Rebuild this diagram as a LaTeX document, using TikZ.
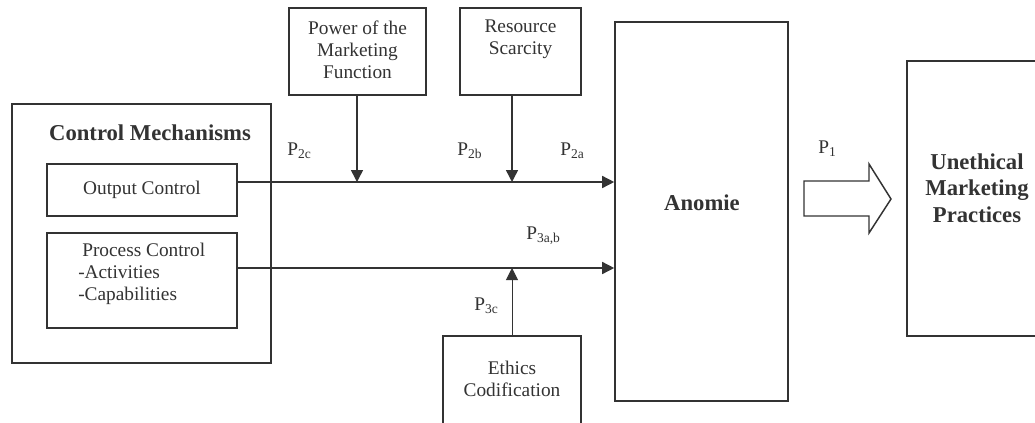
\documentclass[tikz,border=0pt]{standalone}
\usepackage{fontspec}
\setmainfont{Liberation Serif}
\usetikzlibrary{arrows.meta}
\definecolor{ink}{HTML}{333333}
\tikzset{
  box/.style={draw=ink, line width=1.2pt, minimum width=#1, inner sep=0pt},
  txt/.style={text=ink, font=\fontsize{14.5}{16.5}\selectfont, align=center, inner sep=0pt},
  btxt/.style={text=ink, font=\fontsize{17}{20}\selectfont\bfseries, align=center, inner sep=0pt},
  lbl/.style={text=ink, font=\fontsize{14.5}{16}\selectfont, anchor=west, inner sep=0pt},
  arr/.style={draw=ink, line width=1.1pt, -{Triangle[length=9pt,width=9pt]}},
}
\begin{document}
\begin{tikzpicture}[x=0.75pt, y=-0.75pt]
\clip (0,0) rectangle (1035,422);
\fill[white] (0,0) rectangle (1035,422);
% Control mechanisms
\node[box=259*0.75pt, minimum height=259*0.75pt] (ctrl) at (141.5,233.5) {};
\node[btxt] (ctrlt) at (150,133) {Control Mechanisms};
\node[box=190*0.75pt, minimum height=52*0.75pt] (out) at (142,190) {};
\node[txt] (outt) at (142,190) {Output Control};
\node[box=190*0.75pt, minimum height=95*0.75pt] (proc) at (142,280.5) {};
\node[txt, align=left, anchor=north west] (proct) at (78,243) {\hspace{3pt}Process Control\\-Activities\\-Capabilities};
% top boxes
\node[box=137*0.75pt, minimum height=87*0.75pt] (pow) at (357.5,51.5) {};
\node[txt] (powt) at (357.5,50) {Power of the\\Marketing\\Function};
\node[box=121*0.75pt, minimum height=87*0.75pt] (res) at (520.5,51.5) {};
\node[txt] (rest) at (520.5,39) {Resource\\Scarcity};
% anomie
\node[box=173*0.75pt, minimum height=379*0.75pt] (anom) at (701.5,211.5) {};
\node[btxt] (anomt) at (702,203) {Anomie};
% ethics
\node[box=138*0.75pt, minimum height=90*0.75pt] (eth) at (512,381) {};
\node[txt] (etht) at (512,379) {Ethics\\Codification};
% unethical
\node[box=133*0.75pt, minimum height=275*0.75pt] (une) at (973.5,198.5) {};
\node[btxt] (unet) at (977,188) {Unethical\\Marketing\\Practices};
% coordinates
\coordinate (y1) at (0,182);
\coordinate (y2) at (0,268);
\coordinate (j1) at (357,182);
\coordinate (j2) at (512,182);
\coordinate (j3) at (512,268);
% connectors
\draw[arr] (out.east |- y1) -- (anom.west |- y1);
\draw[arr] (proc.east |- y2) -- (anom.west |- y2);
\draw[arr] (pow.south -| j1) -- (j1);
\draw[arr] (res.south -| j2) -- (j2);
\draw[draw=ink, line width=0.7pt, -{Triangle[length=9pt,width=9pt]}] (eth.north) -- (j3);
% block arrow
\draw[draw=ink, line width=1.1pt, fill=white, line join=miter]
  (804,181) -- (869,181) -- (869,164) -- (891,199) -- (869,233) -- (869,216) -- (804,216) -- cycle;
% labels
\node[lbl] (p2c) at (287,151) {P\textsubscript{2c}};
\node[lbl] (p2b) at (457,151) {P\textsubscript{2b}};
\node[lbl] (p2a) at (560,151) {P\textsubscript{2a}};
\node[lbl] (p3ab) at (526,236) {P\textsubscript{3a,b}};
\node[lbl] (p3c) at (474,306) {P\textsubscript{3c}};
\node[lbl] (p1) at (818,149) {P\textsubscript{1}};
\end{tikzpicture}
\end{document}
